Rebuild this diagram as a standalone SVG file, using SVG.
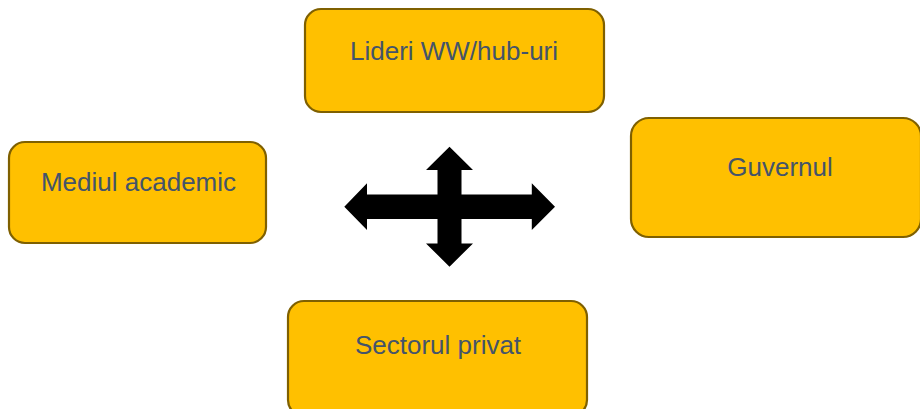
<svg xmlns="http://www.w3.org/2000/svg" width="920" height="409" viewBox="0 0 920 409">
<style>
.box{fill:#FFC000;stroke:#7F6000;stroke-width:2.2}
.lbl{font-family:"Liberation Sans",Arial,sans-serif;font-size:26px;fill:#44546A;text-anchor:middle}
</style>
<rect width="920" height="409" fill="#FFFFFF"/>
<g id="node-lideri">
<rect class="box" x="305" y="9" width="299" height="103" rx="16"/>
<text class="lbl" x="454" y="60">Lideri WW/hub-uri</text>
</g>
<g id="node-mediul">
<rect class="box" x="9" y="142" width="257" height="101" rx="16"/>
<text class="lbl" x="138.5" y="191">Mediul academic</text>
</g>
<g id="node-guvernul">
<rect class="box" x="631" y="118" width="290" height="119" rx="18"/>
<text class="lbl" x="780" y="176">Guvernul</text>
</g>
<g id="node-sectorul">
<rect class="box" x="288" y="301" width="299" height="115" rx="16"/>
<text class="lbl" x="438" y="354">Sectorul privat</text>
</g>
<g id="connectors">
<polygon fill="#000000" points="449.5,146.7 473,170 461.5,170 461.5,194.4 531.8,194.4 531.8,183.3 555,206.7 531.8,230.1 531.8,219 461.5,219 461.5,243.4 473,243.4 449.5,266.7 426,243.4 437.5,243.4 437.5,219 367,219 367,230.1 344.3,206.7 367,183.3 367,194.4 437.5,194.4 437.5,170 426,170"/>
</g>
</svg>
